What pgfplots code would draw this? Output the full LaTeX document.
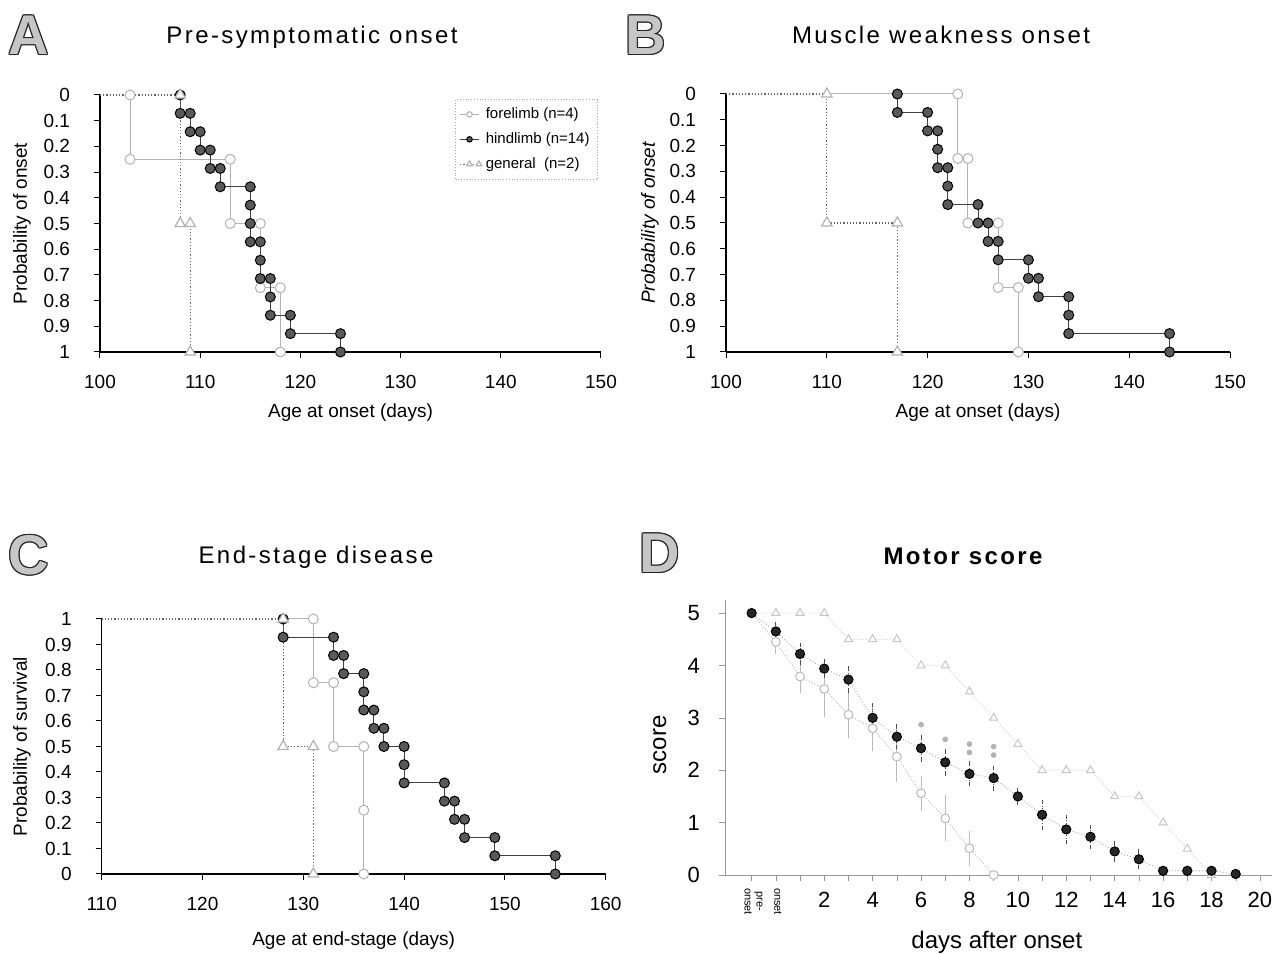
\documentclass[border=0pt]{standalone}
\usepackage{fontspec}
\setmainfont{Liberation Sans}
\newfontfamily\titlefont[LetterSpace=10]{Liberation Sans}
\usepackage{pgfplots}
\usepackage{pgfplotstable}
\pgfplotsset{compat=1.18}

% Kaplan-Meier step data: vertices of each step curve
\pgfplotstableread{
x y
103 0
103 0.25
113 0.25
113 0.5
116 0.5
116 0.75
118 0.75
118 1
}\foreA
\pgfplotstableread{
x y
108 0
108 0.0714
109 0.0714
109 0.1429
110 0.1429
110 0.2143
111 0.2143
111 0.2857
112 0.2857
112 0.3571
115 0.3571
115 0.4286
115 0.5
115 0.5714
116 0.5714
116 0.6429
116 0.7143
117 0.7143
117 0.7857
117 0.8571
119 0.8571
119 0.9286
124 0.9286
124 1
}\hindA
\pgfplotstableread{
x y
100 0
108 0
108 0.5
109 0.5
109 1
}\genA

\pgfplotstableread{
x y
110 0
123 0
123 0.25
124 0.25
124 0.5
127 0.5
127 0.75
129 0.75
129 1
}\foreB
\pgfplotstableread{
x y
117 0
117 0.0714
120 0.0714
120 0.1429
121 0.1429
121 0.2143
121 0.2857
122 0.2857
122 0.3571
122 0.4286
125 0.4286
125 0.5
126 0.5
126 0.5714
127 0.5714
127 0.6429
130 0.6429
130 0.7143
131 0.7143
131 0.7857
134 0.7857
134 0.8571
134 0.9286
144 0.9286
144 1
}\hindB
\pgfplotstableread{
x y
100 0
110 0
110 0.5
117 0.5
117 1
}\genB

\pgfplotstableread{
x y
128 1
131 1
131 0.75
133 0.75
133 0.5
136 0.5
136 0.25
136 0
}\foreC
\pgfplotstableread{
x y
128 1
128 0.9286
133 0.9286
133 0.8571
134 0.8571
134 0.7857
136 0.7857
136 0.7143
136 0.6429
137 0.6429
137 0.5714
138 0.5714
138 0.5
140 0.5
140 0.4286
140 0.3571
144 0.3571
144 0.2857
145 0.2857
145 0.2143
146 0.2143
146 0.1429
149 0.1429
149 0.0714
155 0.0714
155 0
}\hindC
\pgfplotstableread{
x y
110 1
128 1
128 0.5
131 0.5
131 0
}\genC

% motor score: day, mean, error
\pgfplotstableread{
d v e
-1 5 0
0 4.65 0.14
1 4.22 0.17
2 3.94 0.15
3 3.73 0.22
4 3.00 0.24
5 2.64 0.20
6 2.42 0.22
7 2.15 0.22
8 1.93 0.20
9 1.85 0.20
10 1.50 0.13
11 1.15 0.25
12 0.87 0.24
13 0.73 0.19
14 0.45 0.17
15 0.30 0.15
16 0.08 0.06
17 0.08 0.06
18 0.08 0.05
19 0.02 0.03
}\hindD
\pgfplotstableread{
d v e
-1 5 0
0 4.45 0.20
1 3.79 0.28
2 3.55 0.50
3 3.06 0.40
4 2.80 0.40
5 2.26 0.45
6 1.56 0.30
7 1.08 0.40
8 0.51 0.30
9 0 0
}\foreD
\pgfplotstableread{
d v
-1 5
0 5
1 5
2 5
3 4.5
4 4.5
5 4.5
6 4
7 4
8 3.5
9 3
10 2.5
11 2
12 2
13 2
14 1.5
15 1.5
16 1
17 0.5
18 0
}\genD

\pgfplotsset{
  km/.style={
    scale only axis, clip=false,
    axis x line*=bottom, axis y line*=left,
    axis line style={-, black, line width=0.6pt},
    tick align=outside, major tick length=3pt,
    tick style={black, line width=0.5pt},
    ticklabel style={font=\fontsize{9.5}{10}\selectfont},
    /pgf/number format/assume math mode=true,
    label style={font=\fontsize{9.5}{11}\selectfont},
    xticklabel style={yshift=-5pt},
    yticklabel style={xshift=-8.5pt},
  },
  fore/.style={solid, color=gray!60, line width=0.5pt, mark=*, mark size=2.5pt,
    mark options={solid, fill=white, draw=gray!60}},
  hind/.style={solid, color=black!75, line width=0.5pt, mark=*, mark size=2.5pt,
    mark options={solid, fill=black!65, draw=black}},
  gen/.style={densely dotted, color=black!60, line width=0.6pt, mark=triangle*, mark size=3pt,
    mark options={solid, fill=white, draw=gray!60}},
}

\newcommand{\panel}[3]{%
  \foreach \dx/\dy in {0.6/0,-0.6/0,0/0.6,0/-0.6,0.42/0.42,-0.42/0.42,0.42/-0.42,-0.42/-0.42}{%
    \node[text=black!85, font=\fontsize{28}{30}\selectfont\bfseries] at ([xshift=\dx pt, yshift=\dy pt]#1,#2) {#3};}
  \node[text=gray!45, font=\fontsize{28}{30}\selectfont\bfseries] at (#1,#2) {#3};}

\begin{document}
\begin{tikzpicture}
\path[use as bounding box] (0,0) rectangle (638pt,477pt);

% ---------- A ----------
\begin{axis}[km, at={(50pt,301pt)}, anchor=south west,
  width=250.5pt, height=128.5pt,
  xmin=100, xmax=150, ymin=0, ymax=1, y dir=reverse,
  xtick={100,110,...,150}, ytick={0,0.1,...,1},
  xlabel={Age at onset (days)}, ylabel={Probability of onset},
  xlabel style={at={(axis description cs:0.5,-0.237)}, anchor=center},
  ylabel style={at={(axis description cs:-0.156,0.5)}, anchor=center},
  legend style={at={(0.994,0.984)}, anchor=north east, draw=gray!70, densely dotted,
    font=\fontsize{7.5}{9}\selectfont, inner sep=2pt, row sep=1.5pt},
  legend cell align=left,
  legend image post style={scale=0.55},
]
\addplot[fore] table {\foreA};
\addlegendentry{forelimb (n=4)}
\addplot[hind] table {\hindA};
\addlegendentry{hindlimb (n=14)}
\addplot[gen, mark indices={2,...,5}] table {\genA};
\addlegendentry{general\ \ (n=2)}
\end{axis}

% ---------- B ----------
\begin{axis}[km, at={(363pt,301pt)}, anchor=south west,
  width=252pt, height=129pt,
  xmin=100, xmax=150, ymin=0, ymax=1, y dir=reverse,
  xtick={100,110,...,150}, ytick={0,0.1,...,1},
  xlabel={Age at onset (days)}, ylabel={\itshape Probability of onset},
  xlabel style={at={(axis description cs:0.5,-0.236)}, anchor=center},
  ylabel style={at={(axis description cs:-0.151,0.5)}, anchor=center},
]
\addplot[fore, mark indices={2,...,9}] table {\foreB};
\addplot[hind] table {\hindB};
\addplot[gen, mark indices={2,...,5}] table {\genB};
\end{axis}

% ---------- C ----------
\begin{axis}[km, at={(50.85pt,40pt)}, anchor=south west,
  width=252pt, height=127.5pt,
  xmin=110, xmax=160, ymin=0, ymax=1,
  xtick={110,120,...,160}, ytick={0,0.1,...,1},
  xlabel={Age at end-stage (days)}, ylabel={Probability of survival},
  xlabel style={at={(axis description cs:0.5,-0.263)}, anchor=center},
  ylabel style={at={(axis description cs:-0.158,0.5)}, anchor=center},
]
\addplot[fore, mark indices={2,...,8}] table {\foreC};
\addplot[hind] table {\hindC};
\addplot[gen, mark indices={2,...,5}] table {\genC};
\end{axis}

% ---------- D ----------
\begin{axis}[scale only axis, clip=false, at={(362.5pt,39.5pt)}, anchor=south west,
  width=273.5pt, height=137.5pt,
  xmin=-2.1, xmax=20.5, ymin=0, ymax=5.25,
  axis x line*=bottom, axis y line*=left,
  axis line style={-, gray!80, line width=0.5pt},
  tick align=outside, major tick length=3pt, tick style={gray!80},
  xtick={1,...,20}, xticklabels={,2,,4,,6,,8,,10,,12,,14,,16,,18,,20},
  extra x ticks={-1,0}, extra x tick labels={{pre-\\onset},{onset}},
  extra x tick style={tick label style={rotate=-90, anchor=west, align=center,
    font=\fontsize{5.5}{6}\selectfont, yshift=3pt}},
  ytick={0,...,5},
  ticklabel style={font=\fontsize{11}{12}\selectfont},
  /pgf/number format/assume math mode=true,
  xticklabel style={yshift=-2pt}, yticklabel style={xshift=-6pt},
  xlabel={days after onset}, ylabel={score},
  label style={font=\fontsize{12}{14}\selectfont},
  xlabel style={at={(axis description cs:0.497,-0.244)}, anchor=center},
  ylabel style={at={(axis description cs:-0.119,0.473)}, anchor=center},
]
\addplot[densely dotted, color=gray!35, line width=0.5pt, mark=triangle*, mark size=2.3pt,
  mark options={solid, fill=white, draw=gray!45}] table[x=d, y=v] {\genD};
\addplot[densely dotted, color=gray!55, line width=0.5pt, mark=*, mark size=2.2pt,
  mark options={solid, fill=white, draw=gray!55},
  error bars/.cd, y dir=both, y explicit,
  error bar style={solid, gray!55, line width=0.4pt},
  error mark options={gray!55, mark size=1pt}] table[x=d, y=v, y error=e] {\foreD};
\addplot[densely dotted, color=gray!60, line width=0.5pt, mark=*, mark size=2.3pt,
  mark options={solid, fill=black!85, draw=black},
  error bars/.cd, y dir=both, y explicit,
  error bar style={densely dotted, black!70, line width=0.5pt},
  error mark options={black!70, mark size=1pt}] table[x=d, y=v, y error=e] {\hindD};
\addplot[only marks, mark=*, mark size=1.2pt, color=gray!60]
  coordinates {(6,2.87) (7,2.59) (8,2.50) (8,2.34) (9,2.45) (9,2.29)};
\end{axis}

% titles and panel letters
\node[font=\titlefont\fontsize{12}{14}\selectfont] at (156pt,458.5pt) {Pre-symptomatic onset};
\node[font=\titlefont\fontsize{12}{14}\selectfont] at (470.5pt,459.5pt) {Muscle weakness onset};
\node[font=\titlefont\fontsize{12}{14}\selectfont] at (158pt,198.5pt) {End-stage disease};
\node[font=\titlefont\bfseries\fontsize{12}{14}\selectfont] at (481.5pt,199pt) {Motor score};
\panel{14.5pt}{459.5pt}{A}
\panel{323pt}{459.5pt}{B}
\panel{14.5pt}{199.5pt}{C}
\panel{330pt}{200.5pt}{D}
\end{tikzpicture}
\end{document}
